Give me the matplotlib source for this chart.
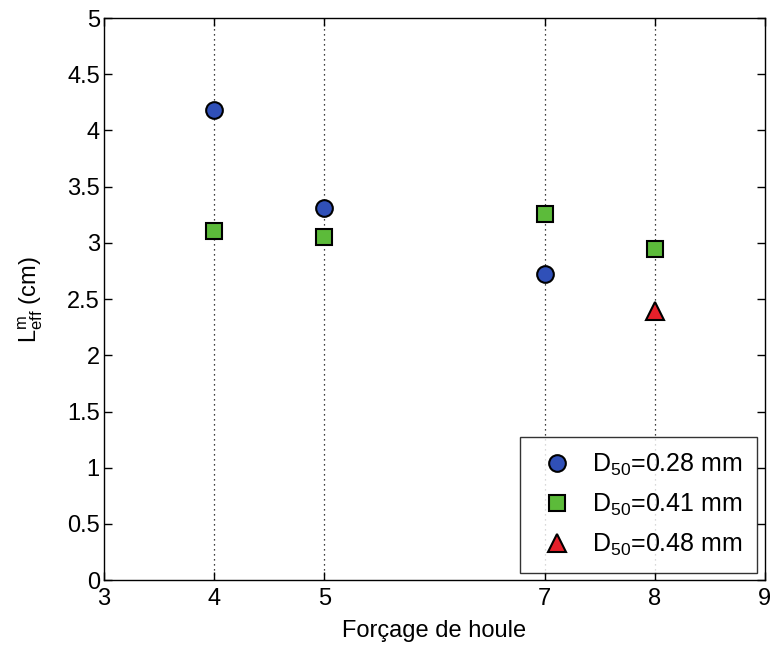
import matplotlib
matplotlib.use('Agg')
from matplotlib import pyplot as plt

plt.rcParams['font.family'] = ['Liberation Sans', 'DejaVu Sans']
plt.rcParams['mathtext.fontset'] = 'custom'
plt.rcParams['mathtext.rm'] = 'Liberation Sans'

# Data
forcage_028 = [4, 5, 7]
leff_028 = [4.18, 3.31, 2.72]
forcage_041 = [4, 5, 7, 8]
leff_041 = [3.11, 3.05, 3.26, 2.95]
forcage_048 = [8]
leff_048 = [2.39]

x_ticks = [3, 4, 5, 7, 8, 9]
y_ticks = [0, 0.5, 1, 1.5, 2, 2.5, 3, 3.5, 4, 4.5, 5]
y_tick_labels = ['0', '0.5', '1', '1.5', '2', '2.5', '3', '3.5', '4', '4.5', '5']

fig = plt.figure(figsize=(7.72, 6.46), dpi=100)
ax = fig.add_axes([0.1347, 0.102, 0.856, 0.870])

# Dotted vertical guides at the forcing values
for xv in [4, 5, 7, 8]:
    ax.axvline(xv, color='k', linestyle=(0, (1, 3)), linewidth=0.9, zorder=1)

ax.plot(forcage_028, leff_028, 'o', color='#3050b8', markeredgecolor='k',
        markeredgewidth=1.5, markersize=12, linestyle='none',
        label=r'$\mathregular{D_{50}}$=0.28 mm', zorder=3)
ax.plot(forcage_041, leff_041, 's', color='#5cbb3a', markeredgecolor='k',
        markeredgewidth=1.5, markersize=11, linestyle='none',
        label=r'$\mathregular{D_{50}}$=0.41 mm', zorder=3)
ax.plot(forcage_048, leff_048, '^', color='#e5202a', markeredgecolor='k',
        markeredgewidth=1.5, markersize=12.5, linestyle='none',
        label=r'$\mathregular{D_{50}}$=0.48 mm', zorder=3)

ax.set_xlim(3, 9)
ax.set_ylim(0, 5)
ax.set_xticks(x_ticks)
ax.set_xticklabels([str(v) for v in x_ticks])
ax.set_yticks(y_ticks)
ax.set_yticklabels(y_tick_labels)
ax.tick_params(direction='in', length=6, width=1, labelsize=17, top=True, right=True)
ax.tick_params(axis='x', pad=6)
ax.tick_params(axis='y', pad=3)
for s in ax.spines.values():
    s.set_linewidth(1.0)

ax.set_xlabel('Forçage de houle', fontsize=17, labelpad=7)
ax.set_ylabel(r'$\mathregular{L^{m}_{eff}}$ (cm)', fontsize=17, labelpad=16)

leg = ax.legend(loc='lower right', fontsize=18, frameon=True, fancybox=False,
                edgecolor='k', borderpad=0.6, labelspacing=0.55, handletextpad=0.5,
                borderaxespad=0.3, handlelength=1.75)
leg.get_frame().set_linewidth(1.0)

fig.savefig('out.png', dpi=100)
